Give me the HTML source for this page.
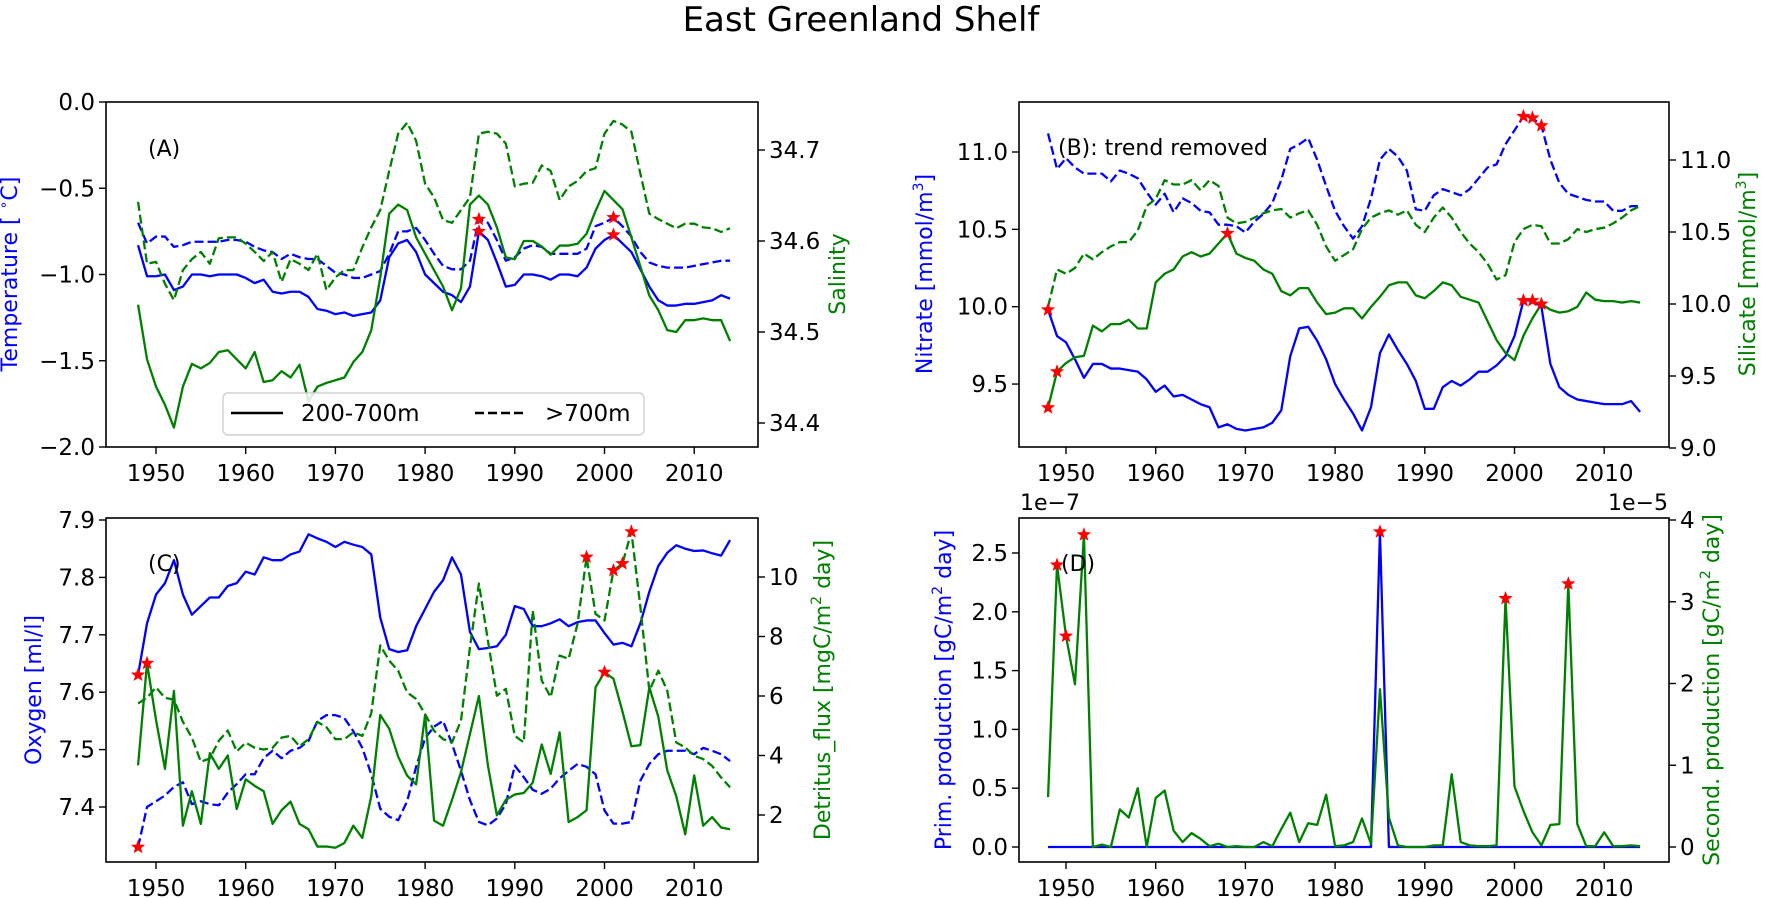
<!DOCTYPE html>
<html><head><meta charset="utf-8"><title>East Greenland Shelf</title>
<style>
html,body{margin:0;padding:0;background:#fff;}
svg{display:block;font-family:"DejaVu Sans","Liberation Sans",sans-serif;}
</style></head>
<body>
<svg id="fig" width="1772" height="898" viewBox="0 0 1772 898" xmlns="http://www.w3.org/2000/svg">
<rect x="0" y="0" width="1772" height="898" fill="#fff"/>
<text x="861" y="31" font-size="34" text-anchor="middle">East Greenland Shelf</text>
</svg>
<script>
// ---------- data (years 1948-2014) ----------
const years = [1948,1949,1950,1951,1952,1953,1954,1955,1956,1957,1958,1959,1960,1961,1962,1963,1964,1965,1966,1967,1968,1969,1970,1971,1972,1973,1974,1975,1976,1977,1978,1979,1980,1981,1982,1983,1984,1985,1986,1987,1988,1989,1990,1991,1992,1993,1994,1995,1996,1997,1998,1999,2000,2001,2002,2003,2004,2005,2006,2007,2008,2009,2010,2011,2012,2013,2014];
const xTickYears = [1950,1960,1970,1980,1990,2000,2010];

const tempShallow = [-0.83,-1.01,-1.01,-1.0,-1.09,-1.07,-1.0,-1.0,-1.01,-1.0,
 -1.0,-1.0,-1.02,-1.05,-1.03,-1.1,-1.11,-1.1,-1.1,-1.13,
 -1.2,-1.21,-1.23,-1.22,-1.24,-1.23,-1.22,-1.15,-0.9,-0.82,
 -0.8,-0.87,-1.0,-1.05,-1.1,-1.12,-1.16,-1.07,-0.75,-0.8,
 -0.93,-1.07,-1.06,-1.0,-1.0,-1.01,-1.03,-1.0,-1.0,-1.01,
 -0.96,-0.85,-0.8,-0.77,-0.82,-0.87,-0.97,-1.07,-1.15,-1.18,
 -1.18,-1.17,-1.17,-1.16,-1.15,-1.12,-1.14];
const tempDeep = [-0.70,-0.82,-0.78,-0.78,-0.84,-0.83,-0.81,-0.81,-0.81,-0.81,
 -0.80,-0.80,-0.81,-0.84,-0.86,-0.87,-0.91,-0.88,-0.90,-0.91,
 -0.91,-0.95,-0.99,-1.00,-1.02,-1.02,-1.00,-0.98,-0.88,-0.75,
 -0.75,-0.73,-0.80,-0.88,-0.95,-0.97,-0.97,-0.92,-0.68,-0.70,
 -0.80,-0.92,-0.90,-0.85,-0.83,-0.84,-0.88,-0.88,-0.88,-0.88,
 -0.85,-0.72,-0.70,-0.67,-0.72,-0.78,-0.87,-0.93,-0.95,-0.96,
 -0.96,-0.96,-0.95,-0.94,-0.93,-0.92,-0.92];
const salShallow = [34.53,34.47,34.44,34.42,34.395,34.44,34.465,34.46,34.466,34.478,
 34.48,34.47,34.46,34.478,34.445,34.447,34.457,34.45,34.464,34.424,
 34.44,34.444,34.447,34.45,34.467,34.478,34.502,34.56,34.63,34.64,
 34.634,34.604,34.586,34.568,34.55,34.524,34.548,34.64,34.65,34.64,
 34.615,34.582,34.58,34.6,34.6,34.594,34.585,34.595,34.595,34.597,
 34.608,34.633,34.655,34.645,34.635,34.604,34.572,34.54,34.524,34.502,
 34.5,34.513,34.513,34.515,34.513,34.513,34.49];
const salDeep = [34.643,34.575,34.577,34.553,34.535,34.568,34.58,34.588,34.575,34.603,
 34.604,34.604,34.597,34.588,34.578,34.588,34.555,34.58,34.575,34.568,
 34.586,34.546,34.56,34.568,34.568,34.593,34.615,34.634,34.677,34.718,
 34.73,34.71,34.663,34.648,34.623,34.62,34.634,34.648,34.718,34.72,
 34.718,34.707,34.66,34.663,34.664,34.683,34.677,34.645,34.66,34.666,
 34.677,34.68,34.718,34.732,34.728,34.72,34.674,34.63,34.624,34.619,
 34.614,34.619,34.619,34.615,34.614,34.61,34.614];
const nitShallow = [9.98,9.81,9.77,9.66,9.54,9.63,9.63,9.60,9.60,9.59,
 9.58,9.53,9.45,9.49,9.42,9.43,9.40,9.37,9.35,9.22,
 9.24,9.21,9.20,9.21,9.22,9.25,9.33,9.68,9.86,9.87,
 9.78,9.66,9.50,9.40,9.31,9.20,9.35,9.70,9.82,9.72,
 9.63,9.52,9.34,9.34,9.48,9.52,9.49,9.53,9.58,9.58,
 9.62,9.68,9.81,10.04,10.04,10.00,9.63,9.48,9.43,9.40,
 9.39,9.38,9.37,9.37,9.37,9.39,9.32];
const nitDeep = [11.12,10.89,10.96,10.90,10.86,10.86,10.86,10.81,10.88,10.86,
 10.83,10.74,10.66,10.73,10.61,10.70,10.67,10.62,10.61,10.53,
 10.53,10.52,10.48,10.55,10.60,10.67,10.82,11.02,11.05,11.09,
 10.95,10.78,10.62,10.52,10.44,10.52,10.70,10.95,11.02,10.97,
 10.88,10.63,10.62,10.72,10.76,10.74,10.72,10.76,10.83,10.90,
 10.92,11.05,11.14,11.23,11.22,11.17,10.95,10.80,10.73,10.71,
 10.69,10.68,10.68,10.62,10.62,10.65,10.65];
const silShallow = [9.28,9.53,9.59,9.63,9.64,9.85,9.81,9.86,9.86,9.89,
 9.83,9.83,10.15,10.21,10.24,10.33,10.36,10.33,10.35,10.42,
 10.49,10.35,10.32,10.30,10.24,10.21,10.09,10.06,10.11,10.11,
 10.01,9.93,9.94,9.97,9.97,9.90,9.98,10.05,10.13,10.15,
 10.15,10.06,10.04,10.09,10.15,10.13,10.05,10.03,10.01,9.88,
 9.75,9.66,9.61,9.78,9.90,10.00,9.96,9.94,9.95,9.98,
 10.08,10.03,10.02,10.02,10.01,10.02,10.01];
const silDeep = [9.98,10.24,10.21,10.25,10.35,10.31,10.36,10.40,10.43,10.43,
 10.51,10.68,10.73,10.86,10.83,10.83,10.86,10.79,10.86,10.82,
 10.60,10.56,10.57,10.60,10.63,10.65,10.66,10.60,10.63,10.65,
 10.55,10.40,10.30,10.34,10.38,10.52,10.60,10.63,10.65,10.62,
 10.65,10.55,10.50,10.60,10.67,10.60,10.50,10.42,10.36,10.28,
 10.17,10.20,10.43,10.52,10.55,10.54,10.42,10.42,10.45,10.52,
 10.50,10.52,10.53,10.56,10.60,10.65,10.68];
const oxyShallow = [7.63,7.72,7.77,7.79,7.83,7.77,7.735,7.75,7.765,7.765,
 7.785,7.79,7.81,7.805,7.835,7.83,7.83,7.84,7.845,7.875,
 7.868,7.862,7.853,7.862,7.857,7.853,7.84,7.73,7.675,7.67,
 7.673,7.715,7.745,7.775,7.795,7.835,7.805,7.705,7.675,7.677,
 7.68,7.70,7.75,7.745,7.715,7.715,7.72,7.727,7.715,7.722,
 7.725,7.725,7.703,7.683,7.686,7.68,7.72,7.775,7.82,7.843,
 7.856,7.85,7.846,7.847,7.842,7.838,7.865];
const oxyDeep = [7.33,7.40,7.41,7.42,7.435,7.443,7.405,7.41,7.405,7.403,
 7.425,7.44,7.457,7.457,7.485,7.498,7.485,7.498,7.503,7.515,
 7.55,7.56,7.56,7.555,7.532,7.503,7.457,7.397,7.383,7.377,
 7.41,7.47,7.52,7.54,7.55,7.51,7.463,7.412,7.374,7.368,
 7.38,7.405,7.472,7.452,7.43,7.423,7.432,7.45,7.463,7.475,
 7.47,7.457,7.394,7.371,7.371,7.374,7.446,7.475,7.492,7.498,
 7.498,7.498,7.492,7.503,7.498,7.492,7.48];
const detShallow = [3.67,7.1,5.2,3.55,6.17,1.64,2.8,1.7,4.08,3.55,
 4.0,2.2,3.2,2.98,2.8,1.7,2.16,2.45,1.7,1.52,
 0.94,0.94,0.9,1.06,1.64,1.23,2.63,5.36,4.9,3.96,
 3.32,3.03,5.36,1.81,1.64,2.51,3.44,4.72,6.0,3.67,
 1.99,2.51,2.69,2.74,3.09,4.37,3.38,4.78,1.76,1.93,
 2.16,6.29,6.8,6.58,5.48,4.31,4.35,6.29,5.3,3.5,
 2.63,1.35,3.33,1.64,1.93,1.58,1.52];
const detDeep = [5.75,5.94,6.29,5.94,5.88,5.13,4.6,3.79,3.9,4.49,
 4.84,4.14,4.43,4.26,4.2,4.26,4.6,4.66,4.31,4.55,
 5.13,4.95,4.55,4.55,4.78,4.66,5.42,7.7,7.19,6.85,
 6.12,5.9,5.39,4.83,4.55,4.44,5.17,7.64,9.78,7.87,
 6.01,6.24,4.66,4.44,8.88,6.52,5.96,7.36,7.25,8.43,
 10.67,8.76,8.54,10.22,10.45,11.52,8.99,6.18,6.85,6.18,
 4.44,4.27,3.99,3.88,3.65,3.26,2.93];
const primProd = [0,0,0,0,0,0,0,0,0,0,
 0,0,0,0,0,0,0,0,0,0,
 0,0,0,0,0,0,0,0,0,0,
 0,0,0,0,0,0,0,2.68,0,0,
 0,0,0,0,0,0,0,0,0,0,
 0,0,0,0,0,0,0,0,0,0,
 0,0,0,0,0,0,0];
const secProd = [0.61,3.45,2.58,1.99,3.82,0.0,0.03,0.0,0.46,0.36,
 0.72,0.0,0.6,0.69,0.2,0.06,0.17,0.1,0.01,0.04,
 0,0.01,0,0,0.06,0.01,0.22,0.42,0.06,0.29,
 0.27,0.64,0.01,0.02,0.06,0.35,0.04,1.93,0.36,0.02,
 0,0,0,0.02,0.02,0.89,0.06,0.02,0.01,0.01,
 0.02,3.04,0.74,0.44,0.18,0.02,0.27,0.28,3.22,0.28,
 0.01,0.01,0.18,0.01,0.01,0.02,0.01];

// star (marked) years per series
const starsTempShallow = [1986,2001];
const starsTempDeep = [1986,2001];
const starsNitShallow = [1948,2001,2002];
const starsNitDeep = [2001,2002,2003];
const starsSilShallow = [1948,1949,1968,2003];
const starsOxyShallow = [1948];
const starsOxyDeep = [1948];
const starsDetShallow = [1949,2000];
const starsDetDeep = [1998,2001,2002,2003];
const starsPrim = [1985];
const starsSec = [1949,1950,1952,1999,2006];

// tick labels
const ticksTemp = [0.0,-0.5,-1.0,-1.5,-2.0];
const ticksSal = [34.4,34.5,34.6,34.7];
const ticksNit = [9.5,10.0,10.5,11.0];
const ticksSil = [9.0,9.5,10.0,10.5,11.0];
const ticksOxy = [7.4,7.5,7.6,7.7,7.8,7.9];
const ticksDet = [2,4,6,8,10];
const ticksPrim = [0.0,0.5,1.0,1.5,2.0,2.5];
const ticksSec = [0,1,2,3,4];

// ---------- drawing ----------
const svg = document.getElementById('fig');
const NS = svg.namespaceURI;
const BLUE = '#0000ff', GREEN = '#008000', RED = '#ff0000';
const PX_PER_YEAR = 8.97;

function el(tag, attrs, parent) {
  const e = document.createElementNS(NS, tag);
  for (const k in attrs) e.setAttribute(k, attrs[k]);
  (parent || svg).appendChild(e);
  return e;
}
function fmt(v, d) { const s = v.toFixed(d); return s.replace('-', '\u2212'); }

const panels = {
  A: {x0:106, x1:758, y0:102, y1:447, x1950:156,
      yl: v => 102 + (0 - v) * 172.5, yr: v => 150 + (34.7 - v) * 910},
  B: {x0:1019, x1:1669, y0:102, y1:447, x1950:1066,
      yl: v => 152 + (11 - v) * 154.7, yr: v => 160 + (11 - v) * 144},
  C: {x0:106, x1:758, y0:518, y1:862, x1950:156,
      yl: v => 520 + (7.9 - v) * 574, yr: v => 577 + (10 - v) * 29.75},
  D: {x0:1019, x1:1669, y0:518, y1:862, x1950:1066,
      yl: v => 847 - v * 117.6, yr: v => 847 - v * 81.75}
};
function xOf(p, yr) { return p.x1950 + (yr - 1950) * PX_PER_YEAR; }

function drawFrame(key, name) {
  const p = panels[key];
  const g = el('g', {});
  
  
  const cp = el('clipPath', {id: 'clip' + key}, g);
  el('rect', {x: p.x0, y: p.y0, width: p.x1 - p.x0, height: p.y1 - p.y0}, cp);
  const r = el('rect', {x: p.x0, y: p.y0, width: p.x1 - p.x0, height: p.y1 - p.y0, fill: 'none', stroke: '#000', 'stroke-width': 1.6}, g);
  
  
  xTickYears.forEach(yr => {
    const x = xOf(p, yr);
    el('line', {x1: x, x2: x, y1: p.y1, y2: p.y1 + 7, stroke: '#000', 'stroke-width': 1.4}, g);
    const t = el('text', {x: x, y: p.y1 + 34, 'font-size': 23, 'text-anchor': 'middle'}, g);
    t.textContent = yr;
    
    
  });
  return g;
}
function drawYTicks(key, ticks, side, decimals, name) {
  const p = panels[key];
  const g = el('g', {});
  
  
  ticks.forEach(v => {
    const y = side === 'left' ? p.yl(v) : p.yr(v);
    if (side === 'left') {
      el('line', {x1: p.x0 - 7, x2: p.x0, y1: y, y2: y, stroke: '#000', 'stroke-width': 1.4}, g);
      const t = el('text', {x: p.x0 - 11, y: y + 8, 'font-size': 23, 'text-anchor': 'end'}, g);
      t.textContent = fmt(v, decimals);
      
      
    } else {
      el('line', {x1: p.x1, x2: p.x1 + 7, y1: y, y2: y, stroke: '#000', 'stroke-width': 1.4}, g);
      const t = el('text', {x: p.x1 + 11, y: y + 8, 'font-size': 23, 'text-anchor': 'start'}, g);
      t.textContent = fmt(v, decimals);
      
      
    }
  });
}
function axisLabel(cx, cy, color, parts, name) {
  const t = el('text', {x: 0, y: 0, 'font-size': 22, fill: color, 'text-anchor': 'middle',
    transform: 'translate(' + cx + ',' + cy + ') rotate(-90)'});
  parts.forEach(pt => {
    const s = el('tspan', {}, t);
    if (pt.sup) { s.setAttribute('font-size', '14'); s.setAttribute('dy', '-9'); }
    if (pt.after) { s.setAttribute('dy', '9'); }
    s.textContent = pt.t;
  });
  
  
}
function drawSeries(key, side, values, color, dashed, name) {
  const p = panels[key];
  const sc = side === 'left' ? p.yl : p.yr;
  let d = '';
  values.forEach((v, i) => {
    d += (i ? 'L' : 'M') + xOf(p, years[i]).toFixed(2) + ',' + sc(v).toFixed(2);
  });
  const path = el('path', {d: d, fill: 'none', stroke: color, 'stroke-width': 2.3,
    'stroke-linejoin': 'round', 'clip-path': 'url(#clip' + key + ')'});
  if (dashed) path.setAttribute('stroke-dasharray', '9,4');
  
  
}
function starPts(cx, cy, R) {
  const pts = [];
  for (let i = 0; i < 10; i++) {
    const r = i % 2 ? R * 0.42 : R;
    const a = -Math.PI / 2 + i * Math.PI / 5;
    pts.push((cx + r * Math.cos(a)).toFixed(2) + ',' + (cy + r * Math.sin(a)).toFixed(2));
  }
  return pts.join(' ');
}
function drawStars(key, side, values, starYears, name) {
  const p = panels[key];
  const sc = side === 'left' ? p.yl : p.yr;
  starYears.forEach(yr => {
    const i = years.indexOf(yr);
    const s = el('polygon', {points: starPts(xOf(p, yr), sc(values[i]), 7.5), fill: RED});
    
    
  });
}
function label(x, y, txt, name, anchor) {
  const t = el('text', {x: x, y: y, 'font-size': 22, 'text-anchor': anchor || 'start'});
  t.textContent = txt;
  
  
}

// Panel A
drawFrame('A', 'panel-a-temperature-salinity');
drawYTicks('A', ticksTemp, 'left', 1, 'temperature-axis');
drawYTicks('A', ticksSal, 'right', 1, 'salinity-axis');
drawSeries('A', 'left', tempShallow, BLUE, false, 'temperature-200-700m');
drawSeries('A', 'left', tempDeep, BLUE, true, 'temperature-below-700m');
drawSeries('A', 'right', salShallow, GREEN, false, 'salinity-200-700m');
drawSeries('A', 'right', salDeep, GREEN, true, 'salinity-below-700m');
drawStars('A', 'left', tempShallow, starsTempShallow, 'temperature-marker');
drawStars('A', 'left', tempDeep, starsTempDeep, 'temperature-deep-marker');
axisLabel(17, 274, BLUE, [{t: 'Temperature [ '}, {t: '\u2218', sup: true}, {t: 'C]', after: true}], 'temperature-axis-title');
axisLabel(845, 274, GREEN, [{t: 'Salinity'}], 'salinity-axis-title');
label(148, 156, '(A)', 'panel-a-label');

// Panel B
drawFrame('B', 'panel-b-nitrate-silicate');
drawYTicks('B', ticksNit, 'left', 1, 'nitrate-axis');
drawYTicks('B', ticksSil, 'right', 1, 'silicate-axis');
drawSeries('B', 'left', nitShallow, BLUE, false, 'nitrate-200-700m');
drawSeries('B', 'left', nitDeep, BLUE, true, 'nitrate-below-700m');
drawSeries('B', 'right', silShallow, GREEN, false, 'silicate-200-700m');
drawSeries('B', 'right', silDeep, GREEN, true, 'silicate-below-700m');
drawStars('B', 'left', nitShallow, starsNitShallow, 'nitrate-marker');
drawStars('B', 'left', nitDeep, starsNitDeep, 'nitrate-deep-marker');
drawStars('B', 'right', silShallow, starsSilShallow, 'silicate-marker');
axisLabel(932, 274, BLUE, [{t: 'Nitrate [mmol/m'}, {t: '3', sup: true}, {t: ']', after: true}], 'nitrate-axis-title');
axisLabel(1755, 274, GREEN, [{t: 'Silicate [mmol/m'}, {t: '3', sup: true}, {t: ']', after: true}], 'silicate-axis-title');
label(1058, 155, '(B): trend removed', 'panel-b-label');

// Panel C
drawFrame('C', 'panel-c-oxygen-detritus');
drawYTicks('C', ticksOxy, 'left', 1, 'oxygen-axis');
drawYTicks('C', ticksDet, 'right', 0, 'detritus-axis');
drawSeries('C', 'left', oxyShallow, BLUE, false, 'oxygen-200-700m');
drawSeries('C', 'left', oxyDeep, BLUE, true, 'oxygen-below-700m');
drawSeries('C', 'right', detShallow, GREEN, false, 'detritus-200-700m');
drawSeries('C', 'right', detDeep, GREEN, true, 'detritus-below-700m');
drawStars('C', 'left', oxyShallow, starsOxyShallow, 'oxygen-marker');
drawStars('C', 'left', oxyDeep, starsOxyDeep, 'oxygen-deep-marker');
drawStars('C', 'right', detShallow, starsDetShallow, 'detritus-marker');
drawStars('C', 'right', detDeep, starsDetDeep, 'detritus-deep-marker');
axisLabel(41, 690, BLUE, [{t: 'Oxygen [ml/l]'}], 'oxygen-axis-title');
axisLabel(830, 690, GREEN, [{t: 'Detritus_flux [mgC/m'}, {t: '2', sup: true}, {t: ' day]', after: true}], 'detritus-axis-title');
label(148, 571, '(C)', 'panel-c-label');

// Panel D
drawFrame('D', 'panel-d-production');
drawYTicks('D', ticksPrim, 'left', 1, 'primary-production-axis');
drawYTicks('D', ticksSec, 'right', 0, 'secondary-production-axis');
drawSeries('D', 'left', primProd, BLUE, false, 'primary-production');
drawSeries('D', 'right', secProd, GREEN, false, 'secondary-production');
drawStars('D', 'left', primProd, starsPrim, 'primary-production-marker');
drawStars('D', 'right', secProd, starsSec, 'secondary-production-marker');
axisLabel(951, 690, BLUE, [{t: 'Prim. production [gC/m'}, {t: '2', sup: true}, {t: ' day]', after: true}], 'primary-production-axis-title');
axisLabel(1719, 690, GREEN, [{t: 'Second. production [gC/m'}, {t: '2', sup: true}, {t: ' day]', after: true}], 'secondary-production-axis-title');
label(1061, 571, '(D)', 'panel-d-label');
label(1020, 510, '1e\u22127', 'primary-offset-label');
label(1668, 510, '1e\u22125', 'secondary-offset-label', 'end');

// Legend (panel A)
const lg = el('g', {});


el('rect', {x: 223, y: 393, width: 421, height: 42, rx: 5, fill: '#fff', 'fill-opacity': 0.85, stroke: '#d0d0d0', 'stroke-width': 1.4}, lg);
const l1 = el('line', {x1: 231, x2: 283, y1: 413, y2: 413, stroke: '#000', 'stroke-width': 2.4}, lg);


const t1 = el('text', {x: 301, y: 421, 'font-size': 23}, lg);
t1.textContent = '200-700m';


const l2 = el('line', {x1: 475, x2: 527, y1: 413, y2: 413, stroke: '#000', 'stroke-width': 2.4, 'stroke-dasharray': '9,4'}, lg);


const t2 = el('text', {x: 545, y: 421, 'font-size': 23}, lg);
t2.textContent = '>700m';


</script>
</body></html>
